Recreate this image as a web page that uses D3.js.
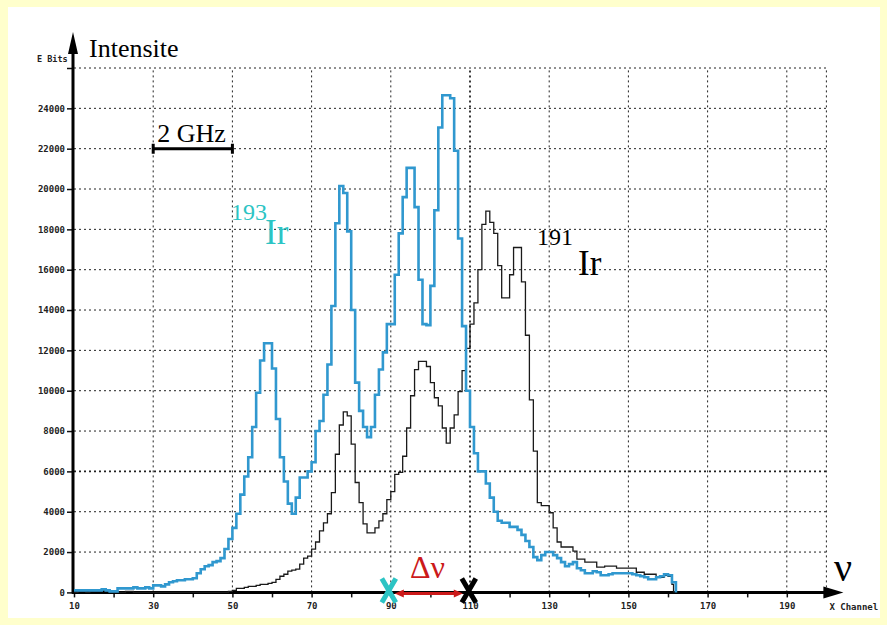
<!DOCTYPE html>
<html>
<head>
<meta charset="utf-8">
<script src="https://cdn.jsdelivr.net/npm/d3@7"></script>
<style>
  body { margin: 0; background: #ffffcc; }
  svg { display: block; }
  .tick text { font-family: "DejaVu Sans Mono", monospace; font-size: 9px; font-weight: bold; fill: #222; }
  .serif { font-family: "Liberation Serif", "Times New Roman", serif; }
</style>
</head>
<body>
<div id="chart"></div>
<script>
(function(d3){

  /**
   * Data: one count per channel, starting at firstChannel.
   */
  var firstChannel = 10;

  var ir193 = [
    100, 100, 100, 100, 100, 100, 100, 150, 100, 50,
    50, 200, 200, 200, 200, 250, 200, 200, 250, 200,
    350, 350, 300, 400, 500, 550, 600, 600, 650, 650,
    700, 950, 1150, 1300, 1350, 1500, 1550, 1700, 2150, 2650,
    3200, 3900, 4850, 5750, 6700, 8200, 9900, 11500, 12350, 12350,
    11100, 8600, 6700, 5500, 4400, 3900, 4700, 5700, 5700, 6000,
    6450, 8000, 8500, 9800, 11300, 14200, 18300, 20150, 19800, 17900,
    14000, 10400, 9000, 8200, 7700, 8200, 9800, 11050, 11900, 13300,
    13300, 15750, 17800, 19600, 21050, 21050, 19100, 15500, 13300, 13250,
    15200, 18950, 23050, 24650, 24650, 24500, 21900, 17550, 13200, 10000,
    8200, 6900, 6000, 6000, 5400, 4700, 4000, 3550, 3450, 3450,
    3250, 3250, 3100, 2850, 2550, 2250, 1750, 1600, 1850, 2000,
    2000, 1850, 1700, 1500, 1300, 1400, 1500, 1200, 1100, 950,
    950, 1050, 1000, 850, 850, 900, 950, 950, 950, 950,
    950, 900, 850, 800, 750, 650, 650, 750, 800, 900,
    850, 500
  ];

  var ir191 = [
    0, 50, 50, 0, 50, 50, 50, 100, 50, 0,
    0, 0, 0, 50, 50, 0, 0, 0, 0, 0,
    0, 0, 0, 0, 0, 0, 0, 0, 0, 0,
    0, 0, 0, 0, 0, 0, 0, 0, 0, 50,
    100, 200, 200, 250, 300, 300, 350, 400, 400, 450,
    500, 650, 800, 900, 1050, 1100, 1150, 1400, 1700, 1800,
    2150, 2500, 3050, 3450, 3900, 4950, 6850, 8300, 8950, 8750,
    7350, 5450, 4450, 3400, 2950, 2950, 3200, 3550, 3900, 4600,
    5000, 5850, 5950, 6750, 8150, 9750, 11050, 11450, 11450, 11200,
    10400, 9650, 9250, 8150, 7400, 8150, 8800, 9950, 11000, 12100,
    13300, 14350, 16000, 18250, 18900, 18350, 17800, 16200, 14600, 14600,
    15750, 17100, 17100, 15400, 12750, 9550, 7000, 4450, 4300, 4300,
    3950, 3200, 2500, 2250, 2250, 2250, 2050, 1650, 1650, 1500,
    1500, 1500, 1250, 1250, 1300, 1300, 1300, 1200, 1200, 1200,
    1200, 1200, 1000, 1000, 900, 900, 900, 750, 750, 850,
    800, 400
  ];

  // last channel edge where each trace drops back to zero
  var ir193End = 162,
      ir191End = 161.4;

  var xTicks  = [10, 20, 30, 40, 50, 60, 70, 80, 90, 100, 110, 120, 130, 140, 150, 160, 170, 180, 190],
      xLabels = [10, 30, 50, 70, 90, 110, 130, 150, 170, 190],
      xGrid   = [30, 50, 70, 90, 110, 130, 150, 170, 190, 200],
      yTicks  = [0, 2000, 4000, 6000, 8000, 10000, 12000, 14000, 16000, 18000, 20000, 22000, 24000, 26000],
      yLabels = [0, 2000, 4000, 6000, 8000, 10000, 12000, 14000, 16000, 18000, 20000, 22000, 24000];

  // line centres marked on the axis (193Ir, 191Ir) and the 2 GHz scale bar
  var markers = [89.5, 109.7],
      scaleBar = [30, 50];

  var canvas_d = {width: 887, height: 625},
      blue = '#3098cf',
      cyan = '#2cc4c4',
      red = '#cc1a1a',
      svg, x, y, line;


  /**
   * Canvas and white panel.
   */
  svg = d3.select('#chart').append('svg')
      .attr('width', canvas_d.width)
      .attr('height', canvas_d.height);

  svg.append('rect')
      .attr('x', 8).attr('y', 7)
      .attr('width', 872).attr('height', 611)
      .attr('fill', '#fff');

  x = d3.scaleLinear().domain([10, 200]).range([74, 826.4]);
  y = d3.scaleLinear().domain([0, 26000]).range([592.4, 68]);


  /**
   * Dotted grid.
   */
  svg.append('g').selectAll('line')
      .data(yTicks.slice(1))
    .enter().append('line')
      .attr('x1', x(10)).attr('x2', x(200))
      .attr('y1', function(d) { return y(d); })
      .attr('y2', function(d) { return y(d); })
      .attr('stroke', '#222')
      .attr('stroke-width', function(d) { return d === 6000 ? 1.8 : 1; })
      .attr('stroke-dasharray', '2,3');

  svg.append('g').selectAll('line')
      .data(xGrid)
    .enter().append('line')
      .attr('x1', function(d) { return x(d); })
      .attr('x2', function(d) { return x(d); })
      .attr('y1', y(0)).attr('y2', y(26000))
      .attr('stroke', '#222')
      .attr('stroke-width', function(d) { return d === 110 ? 1.8 : 1; })
      .attr('stroke-dasharray', '2,3');


  /**
   * Axes with ticks.
   */
  svg.append('g')
      .attr('transform', 'translate(0,' + y(0) + ')')
      .call(d3.axisBottom(x)
        .tickValues(xTicks)
        .tickSize(5)
        .tickPadding(5)
        .tickFormat(function(d) { return xLabels.indexOf(d) > -1 ? d : ''; }))
      .call(function(g) {
        g.select('.domain').remove();
        g.selectAll('.tick line').attr('stroke', '#111').attr('stroke-width', 1.5);
      });

  svg.append('g')
      .attr('transform', 'translate(' + (x(10) - 1) + ',0)')
      .call(d3.axisLeft(y)
        .tickValues(yTicks)
        .tickSize(6)
        .tickPadding(2)
        .tickFormat(function(d) { return yLabels.indexOf(d) > -1 ? d : ''; }))
      .call(function(g) {
        g.select('.domain').remove();
        g.selectAll('.tick line').attr('stroke', '#111').attr('stroke-width', 1.5);
      });

  svg.append('line')
      .attr('x1', x(10) - 2).attr('x2', x(200))
      .attr('y1', y(0)).attr('y2', y(0))
      .attr('stroke', '#000').attr('stroke-width', 3);
  svg.append('path')
      .attr('d', 'M' + (x(200) - 3) + ',' + (y(0) - 6) + 'L' + (x(200) + 17) + ',' + y(0) +
                 'L' + (x(200) - 3) + ',' + (y(0) + 6) + 'Z')
      .attr('fill', '#000');

  svg.append('line')
      .attr('x1', x(10) - 1).attr('x2', x(10) - 1)
      .attr('y1', y(0) + 1).attr('y2', y(26000) - 14)
      .attr('stroke', '#000').attr('stroke-width', 3);
  svg.append('path')
      .attr('d', 'M' + (x(10) - 6) + ',' + (y(26000) - 14) + 'L' + (x(10) - 1) + ',' + (y(26000) - 36) +
                 'L' + (x(10) + 4) + ',' + (y(26000) - 14) + 'Z')
      .attr('fill', '#000');

  svg.append('text')
      .attr('x', 37).attr('y', 62)
      .style('font', 'bold 8.5px "DejaVu Sans Mono", monospace')
      .attr('fill', '#222')
      .text('E Bits');

  svg.append('text')
      .attr('x', x(200) + 3).attr('y', 610)
      .style('font', 'bold 9px "DejaVu Sans Mono", monospace')
      .attr('fill', '#222')
      .text('X Channel');

  svg.append('text').attr('class', 'serif')
      .attr('x', 89).attr('y', 57)
      .style('font-size', '26px')
      .text('Intensite');

  svg.append('text').attr('class', 'serif')
      .attr('x', 834).attr('y', 581)
      .style('font-size', '40px')
      .text('\u03bd');


  /**
   * Step traces.
   */
  function steps(values, end) {
    var pts = values.map(function(d, i) { return [firstChannel + i, d]; });
    pts.push([end, values[values.length - 1]]);
    pts.push([end, 0]);
    return pts;
  }

  line = d3.line()
      .x(function(d) { return x(d[0]); })
      .y(function(d) { return y(d[1]); })
      .curve(d3.curveStepAfter);

  svg.append('path')
      .attr('d', line(steps(ir191, ir191End)))
      .attr('fill', 'none')
      .attr('stroke', '#1a1a1a')
      .attr('stroke-width', 1.3);

  svg.append('path')
      .attr('d', line(steps(ir193, ir193End)))
      .attr('fill', 'none')
      .attr('stroke', blue)
      .attr('stroke-width', 2.6);


  /**
   * Annotations: scale bar, isotope labels, line markers, delta nu.
   */
  svg.append('path')
      .attr('d', 'M' + x(scaleBar[0]) + ',' + (y(22000) - 5) + 'V' + (y(22000) + 5) +
                 'M' + x(scaleBar[0]) + ',' + y(22000) + 'H' + x(scaleBar[1]) +
                 'M' + x(scaleBar[1]) + ',' + (y(22000) - 5) + 'V' + (y(22000) + 5))
      .attr('fill', 'none')
      .attr('stroke', '#000')
      .attr('stroke-width', 3);

  svg.append('text').attr('class', 'serif')
      .attr('x', x(scaleBar[0]) + 4).attr('y', y(22000) - 7)
      .style('font-size', '26px')
      .text('2 GHz');

  svg.append('text').attr('class', 'serif')
      .attr('x', 231).attr('y', 220)
      .style('font-size', '24px')
      .attr('fill', cyan)
      .text('193');
  svg.append('text').attr('class', 'serif')
      .attr('x', 265).attr('y', 244)
      .style('font-size', '35px')
      .attr('fill', cyan)
      .text('Ir');

  svg.append('text').attr('class', 'serif')
      .attr('x', 537).attr('y', 245)
      .style('font-size', '24px')
      .text('191');
  svg.append('text').attr('class', 'serif')
      .attr('x', 578).attr('y', 275)
      .style('font-size', '35px')
      .text('Ir');

  // red double arrow between the two markers
  var a0 = x(markers[0]) + 6,
      a1 = x(markers[1]) - 6,
      ay = y(0) + 1;
  svg.append('line')
      .attr('x1', a0 + 4).attr('x2', a1 - 4)
      .attr('y1', ay).attr('y2', ay)
      .attr('stroke', red).attr('stroke-width', 3);
  svg.append('path')
      .attr('d', 'M' + a0 + ',' + ay + 'l9,-4v8Z' + 'M' + a1 + ',' + ay + 'l-9,-4v8Z')
      .attr('fill', red);

  svg.append('text').attr('class', 'serif')
      .attr('x', 410).attr('y', 578)
      .style('font-size', '32px')
      .attr('fill', red)
      .text('\u0394\u03bd');

  svg.append('g').selectAll('path')
      .data(markers)
    .enter().append('path')
      .attr('d', function(d) {
        var cx = x(d), cy = y(0) - 2;
        return 'M' + (cx - 7) + ',' + (cy - 12) + 'L' + (cx + 7) + ',' + (cy + 12) +
               'M' + (cx + 7) + ',' + (cy - 12) + 'L' + (cx - 7) + ',' + (cy + 12);
      })
      .attr('fill', 'none')
      .attr('stroke', function(d, i) { return i === 0 ? cyan : '#000'; })
      .attr('stroke-width', 5);

})(d3);
</script>
</body>
</html>
